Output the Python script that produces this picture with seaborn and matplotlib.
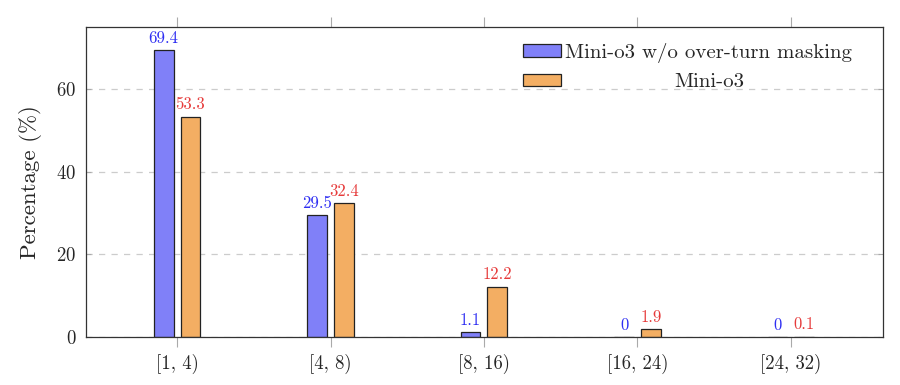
import pandas as pd
import matplotlib
matplotlib.use("Agg")
import matplotlib.pyplot as plt
import seaborn as sns

# data
bins = ["[1, 4)", "[4, 8)", "[8, 16)", "[16, 24)", "[24, 32)"]
series_names = ["Mini-o3 w/o over-turn masking", "Mini-o3"]
no_mask_vals = [69.4, 29.5, 1.1, 0, 0]
mini_o3_vals = [53.3, 32.4, 12.2, 1.9, 0.1]
yticks = [0, 20, 40, 60]

bar_colors = ["#8080f8", "#f3ae63"]
label_colors = ["#2f2ff2", "#e63b3b"]

sns.set_theme(style="white")
plt.rcParams["font.family"] = ["cmr10", "DejaVu Serif"]
plt.rcParams["axes.formatter.use_mathtext"] = True
plt.rcParams["mathtext.fontset"] = "cm"

df = pd.DataFrame({
    "bin": bins * 2,
    "value": no_mask_vals + mini_o3_vals,
    "series": [series_names[0]] * len(bins) + [series_names[1]] * len(bins),
})

fig = plt.figure(figsize=(9, 3.85), dpi=100)
ax = fig.add_axes([0.0956, 0.1247, 0.8855, 0.8053])

sns.barplot(data=df, x="bin", y="value", hue="series", order=bins,
            hue_order=series_names, palette=bar_colors, width=0.35, gap=0.26,
            edgecolor="#222222", linewidth=0.9, saturation=1, ax=ax,
            errorbar=None)

# value labels above bars
for cont, col in zip(ax.containers, label_colors):
    ax.bar_label(cont, labels=[f"{v:g}" for v in cont.datavalues],
                 padding=3, color=col, fontsize=12)

ax.set_xlim(-0.593, 4.6)
ax.set_ylim(0, 75)
ax.set_yticks(yticks)
ax.set_xlabel("")
ax.set_ylabel("Percentage (%)", fontsize=16.5, labelpad=10)
ax.yaxis.grid(True, linestyle=(0, (5, 5)), color="#cccccc", linewidth=0.9)
ax.set_axisbelow(True)

ax.tick_params(axis="x", which="both", direction="out", length=7, width=0.8,
               color="#aaaaaa", top=True, bottom=True, labelsize=13.5, pad=5)
ax.tick_params(axis="y", direction="in", length=3.5, width=0.8,
               color="#aaaaaa", left=True, right=True, labelsize=13.5, pad=7)
for s in ax.spines.values():
    s.set_color("#333333")
    s.set_linewidth(0.9)

leg = ax.legend(loc="upper right", bbox_to_anchor=(0.972, 0.975),
                frameon=False, fontsize=15, handlelength=1.83,
                handleheight=0.55, handletextpad=0.2, labelspacing=0.5,
                borderaxespad=0)
for h in leg.legend_handles:
    h.set_edgecolor("#222222")
    h.set_linewidth(0.9)

# center the shorter legend entry under the longer one, like the original
fig.canvas.draw()
r = fig.canvas.get_renderer()
w0 = leg.texts[0].get_window_extent(r).width
w1 = leg.texts[1].get_window_extent(r).width
leg.texts[1].set_x((w0 - w1) / 2)

fig.savefig("out.png", dpi=100)
